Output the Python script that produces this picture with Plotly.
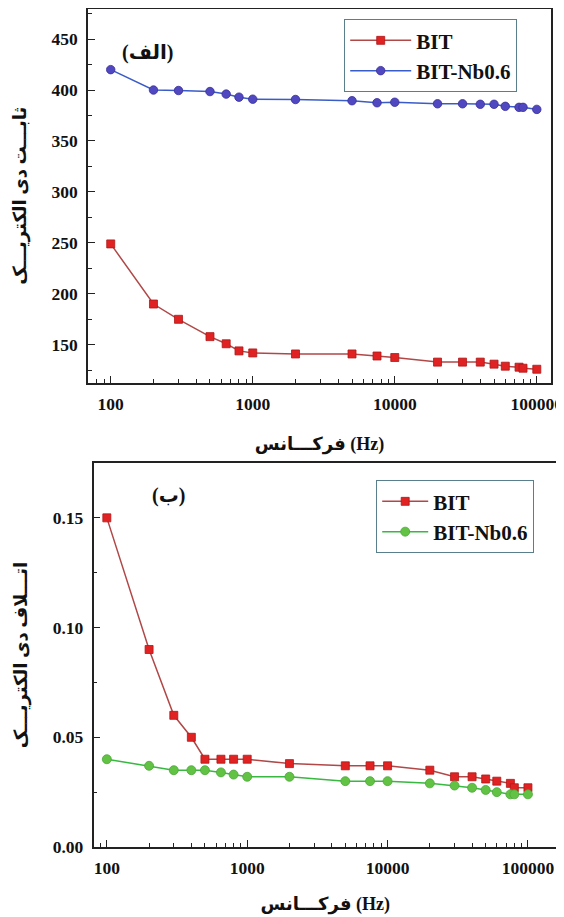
import plotly.graph_objects as go

# ---------------- data ----------------
freq_top = [100, 200, 300, 500, 650, 800, 1000, 2000, 5000, 7500, 10000,
            20000, 30000, 40000, 50000, 60000, 75000, 80000, 100000]
bit_eps = [249, 190, 175, 158, 151, 144, 142, 141, 141, 139, 137.5,
           133, 133, 133, 131, 129, 128, 127, 126]
nb_eps = [420, 400, 399.5, 398.5, 396, 393, 391, 390.7, 389.5, 387.5, 388,
          386.5, 386.5, 386, 386, 384, 383, 383, 381]

freq_bot = [100, 200, 300, 400, 500, 650, 800, 1000, 2000, 5000, 7500, 10000,
            20000, 30000, 40000, 50000, 60000, 75000, 80000, 100000]
bit_loss = [0.150, 0.090, 0.060, 0.050, 0.040, 0.040, 0.040, 0.040, 0.038, 0.037,
            0.037, 0.037, 0.035, 0.032, 0.032, 0.031, 0.030, 0.029, 0.027, 0.027]
nb_loss = [0.040, 0.037, 0.035, 0.035, 0.035, 0.034, 0.033, 0.032, 0.032, 0.030,
           0.030, 0.030, 0.029, 0.028, 0.027, 0.026, 0.025, 0.024, 0.024, 0.024]

x_ticks = [100, 1000, 10000, 100000]
y_ticks_top = [150, 200, 250, 300, 350, 400, 450]
y_ticks_bot = [0.00, 0.05, 0.10, 0.15]

name_bit = "BIT"
name_nb = "BIT-Nb0.6"
ytitle_top = "ثابـــت دی الکتریـــک"
ytitle_bot = "اتـــلاف دی الکتریـــک"
xtitle = "فرکـــانس (Hz)"
label_top = "(الف)"
label_bot = "(ب)"

# ---------------- style ----------------
FONT = "'Liberation Serif', 'Times New Roman', 'DejaVu Sans', serif"
AX = "#222222"
RED_LINE = "#b04848"
RED_MK = "#e02222"
BLUE_LINE = "#3a5cc8"
BLUE_MK = "#5048c0"
GREEN_LINE = "#38b840"
GREEN_MK = "#62c244"

OFF = 8  # page body margin (top/left)
W, H = 564 - OFF, 917 - OFF

def px_x(p):
    return (p - OFF) / W

def px_y(p):
    return 1 - (p - OFF) / H

fig = go.Figure()

fig.add_trace(go.Scatter(
    x=freq_top, y=bit_eps, name=name_bit, mode="lines+markers",
    line=dict(color=RED_LINE, width=1.5),
    marker=dict(symbol="square", size=8, color=RED_MK, line=dict(color="#b01818", width=0.8)),
    xaxis="x", yaxis="y", legend="legend"))
fig.add_trace(go.Scatter(
    x=freq_top, y=nb_eps, name=name_nb, mode="lines+markers",
    line=dict(color=BLUE_LINE, width=1.5),
    marker=dict(symbol="circle", size=8.5, color=BLUE_MK, line=dict(color="#3a2f9a", width=0.8)),
    xaxis="x", yaxis="y", legend="legend"))

fig.add_trace(go.Scatter(
    x=freq_bot, y=bit_loss, name=name_bit, mode="lines+markers",
    line=dict(color=RED_LINE, width=1.5),
    marker=dict(symbol="square", size=8, color=RED_MK, line=dict(color="#b01818", width=0.8)),
    xaxis="x2", yaxis="y2", legend="legend2"))
fig.add_trace(go.Scatter(
    x=freq_bot, y=nb_loss, name=name_nb, mode="lines+markers",
    line=dict(color=GREEN_LINE, width=1.5),
    marker=dict(symbol="circle", size=9, color=GREEN_MK, line=dict(color="#4aa838", width=0.8)),
    xaxis="x2", yaxis="y2", legend="legend2"))

tickfont = dict(family=FONT, size=17.5, color="#111111", weight="bold")
titlefont = dict(family=FONT, size=18, color="#111111", weight="bold")

common_x = dict(type="log", showgrid=False, zeroline=False, showline=True, linecolor=AX,
                linewidth=1.5, mirror=True, ticks="inside", ticklen=7, tickwidth=1.2,
                tickcolor=AX, tickvals=x_ticks, ticktext=[str(v) for v in x_ticks],
                tickfont=tickfont, automargin=False, ticklabelstandoff=4,
                minor=dict(ticks="inside", ticklen=4, tickcolor=AX, tickwidth=1,
                           dtick="D1", showgrid=False))
common_y = dict(showgrid=False, zeroline=False, showline=True, linecolor=AX,
                linewidth=1.5, mirror=True, ticks="inside", ticklen=7, tickwidth=1.2,
                tickcolor=AX, tickfont=tickfont, automargin=False, ticklabelstandoff=5)

legfont = dict(family=FONT, size=21, color="#111111", weight="bold")

fig.update_layout(
    width=W, height=H,
    margin=dict(l=0, r=0, t=0, b=0),
    paper_bgcolor="white", plot_bgcolor="white",
    showlegend=True,
    xaxis=dict(common_x, domain=[px_x(88), px_x(551)], range=[1.84, 5.10], anchor="y",
               title=dict(text=xtitle, font=titlefont, standoff=25)),
    yaxis=dict(common_y, domain=[px_y(383), px_y(8.5)], range=[112.5, 480], anchor="x",
               tickvals=y_ticks_top, ticktext=[str(v) for v in y_ticks_top],
               minor=dict(ticks="inside", ticklen=4, tickcolor=AX, dtick=25),
               title=dict(text=ytitle_top, font=titlefont, standoff=20)),
    xaxis2=dict(common_x, domain=[px_x(93.5), px_x(557)], range=[1.905, 5.207], anchor="y2",
                title=dict(text=xtitle, font=titlefont, standoff=21)),
    yaxis2=dict(common_y, domain=[px_y(847), px_y(463)], range=[0, 0.175], anchor="x2",
                tickvals=y_ticks_bot, ticktext=[f"{v:.2f}" for v in y_ticks_bot],
                minor=dict(ticks="inside", ticklen=4, tickcolor=AX, dtick=0.025),
                title=dict(text=ytitle_bot, font=titlefont, standoff=20)),
    legend=dict(x=px_x(344), y=px_y(19), xanchor="left", yanchor="top",
                bgcolor="white", bordercolor="#5a7f8c", borderwidth=1.2,
                font=legfont, itemwidth=61, tracegroupgap=0),
    legend2=dict(x=px_x(376), y=px_y(480), xanchor="left", yanchor="top",
                 bgcolor="white", bordercolor="#5a7f8c", borderwidth=1.2,
                 font=legfont, itemwidth=46, tracegroupgap=0),
    annotations=[
        dict(text=label_top, x=px_x(120), y=px_y(39), xref="paper", yref="paper",
             showarrow=False, font=dict(family=FONT, size=20, color="#111111", weight="bold")),
        dict(text=label_bot, x=px_x(150), y=px_y(495), xref="paper", yref="paper",
             showarrow=False, font=dict(family=FONT, size=20, color="#111111", weight="bold")),
    ],
)

fig.write_html("out.html")
